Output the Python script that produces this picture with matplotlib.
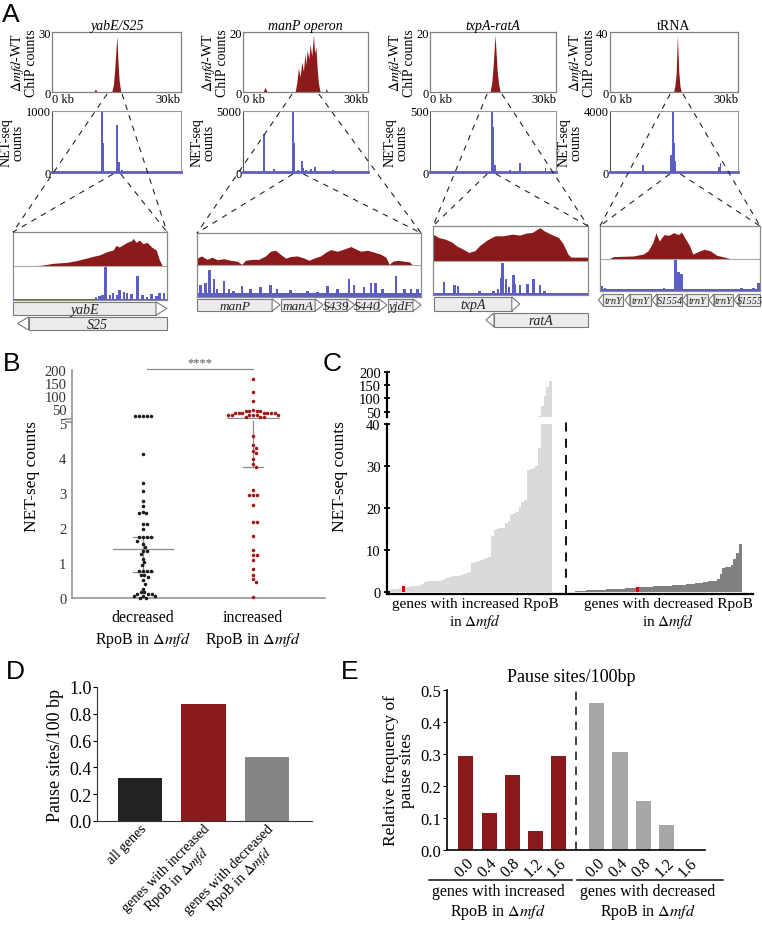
import numpy as np
import matplotlib.pyplot as plt
from matplotlib.patches import Polygon

plt.rcParams['font.family'] = ['Liberation Serif', 'DejaVu Serif']
plt.rcParams['mathtext.fontset'] = 'stix'

W, H = 762, 929
RED = '#8b1a1a'
BLUE = '#5d5dc6'
EDGE = '#808080'
MFD = r'$\Delta\mathit{mfd}$'

# ---------------- panel A data ----------------
chip_titles = ['yabE/S25', 'manP operon', 'txpA-ratA', 'tRNA']
chip_italic = [True, True, True, False]
chip_max = [30, 20, 20, 40]
net_max = [1000, 5000, 500, 4000]

chip1_kb = [0, 9.7, 10.1, 10.5, 13.9, 14.3, 14.6, 14.9, 15.1, 15.3, 15.6, 16.0, 19.0, 19.1, 19.2, 30]
chip1_val = [0, 0, 1.5, 0, 0, 4, 12, 22, 28, 17, 6, 0, 0, 0.6, 0, 0]
chip2_kb = [0, 4.8, 5.3, 5.8, 12.5, 12.9, 13.3, 13.7, 14.1, 14.5, 14.9, 15.1, 15.4, 15.8, 16.1,
            16.5, 16.9, 17.2, 17.5, 17.8, 18.1, 18.5, 19.7, 20.0, 20.3, 30]
chip2_val = [0, 0, 1.5, 0, 0, 3, 8, 5, 10, 7, 13, 9, 14, 11, 16, 12, 19, 13, 15, 8, 3, 0, 0, 1.2, 0, 0]
chip3_kb = [0, 14.3, 14.7, 15.0, 15.3, 15.5, 15.7, 16.0, 16.3, 16.7, 30]
chip3_val = [0, 0, 3, 8, 15, 19, 14, 7, 3, 0, 0]
chip4_kb = [0, 14.9, 15.2, 15.5, 15.8, 16.1, 16.4, 16.7, 29.6, 30]
chip4_val = [0, 0, 4, 12, 38, 14, 4, 0, 0, 1]
chip_kb = [chip1_kb, chip2_kb, chip3_kb, chip4_kb]
chip_val = [chip1_val, chip2_val, chip3_val, chip4_val]

net1_kb = [11.6, 11.9, 14.9, 15.2, 15.6, 16.2]
net1_cnt = [1000, 480, 20, 770, 170, 30]
net2_kb = [5.1, 7.4, 12.0, 12.2, 13.2, 14.1, 14.4, 15.2, 16.3, 17.3, 21.6]
net2_cnt = [3100, 250, 4900, 2400, 150, 900, 350, 200, 250, 450, 200]
net3_kb = [14.7, 15.1, 15.5, 19.0, 21.4, 27.5]
net3_cnt = [500, 370, 60, 20, 70, 30]
net4_kb = [7.8, 14.4, 14.8, 15.1, 15.3, 25.6, 25.9]
net4_cnt = [450, 1100, 4000, 1900, 700, 300, 600]
net_kb = [net1_kb, net2_kb, net3_kb, net4_kb]
net_cnt = [net1_cnt, net2_cnt, net3_cnt, net4_cnt]

# zoom windows (kb) on the ChIP and NET-seq tracks
zoom_chip = [(12.8, 16.3), (11.8, 18.2), (13.6, 17.1), (14.1, 17.1)]
zoom_net = [(14.2, 16.0), (12.0, 14.5), (13.6, 15.7), (14.0, 16.5)]

# zoomed-in tracks (fraction of window, relative signal)
t1_chip_x = [0, .18, .26, .35, .41, .48, .52, .56, .61, .65, .67, .69, .74, .77, .78, .80, .82,
             .845, .87, .90, .93, .95, .97, 1]
t1_chip_y = [0, .02, .08, .11, .16, .24, .29, .33, .43, .48, .62, .57, .71, .76, .83, .71, .78,
             .67, .71, .57, .48, .19, 0, 0]
t1_net_x = [.54, .56, .58, .60, .63, .65, .68, .69, .72, .74, .77, .81, .84, .87, .90, .93, .95, .98]
t1_net_y = [.08, .12, .15, 1.0, .15, .2, .15, .3, .25, .2, .18, .72, .15, .1, .18, .12, .2, .2]

t2_chip_x = [0, .02, .045, .067, .09, .12, .15, .18, .2, .216, .246, .276, .306, .328, .35, .373,
             .396, .418, .448, .478, .5, .522, .552, .575, .597, .627, .657, .687, .709, .731,
             .761, .791, .821, .843, .858, .873, .896, .925, .948, .963, 1]
t2_chip_y = [.22, .29, .18, .25, .17, .2, .15, .12, .02, .15, .18, .18, .29, .44, .47, .34, .22,
             .27, .29, .22, .15, .22, .29, .41, .49, .44, .51, .59, .51, .44, .47, .41, .34,
             .25, .02, .12, .15, .12, .1, 0, 0]
t2_net_x = [.015, .037, .057, .075, .09, .12, .142, .164, .2, .239, .284, .328, .358, .418,
            .493, .537, .582, .627, .679, .701, .746, .776, .798, .828, .888, .925, .955, .985]
t2_net_y = [.38, .43, .85, .55, .26, .5, .26, .2, .33, .26, .31, .38, .26, .23, .2, .15, .33,
            .26, .57, .38, .31, .45, .43, .26, .66, .26, .26, .26]

t3_chip_x = [0, .036, .08, .12, .15, .2, .23, .27, .3, .35, .4, .45, .51, .56, .6, .64, .67,
             .69, .72, .76, .81, .84, .87, .89, 1]
t3_chip_y = [.78, .68, .63, .55, .44, .32, .24, .29, .44, .61, .73, .73, .78, .75, .81, .83,
             .92, .97, .87, .78, .68, .49, .19, .1, .1]
t3_net_x = [.07, .14, .16, .3, .39, .42, .44, .45, .47, .49, .52, .53, .56, .61, .65, .69, .72]
t3_net_y = [.37, .29, .27, .13, .13, .17, .49, .93, .47, .22, .58, .32, .29, .32, .47, .29, .13]

t4_chip_x = [0, .06, .083, .21, .27, .3, .33, .35, .37, .4, .43, .46, .49, .51, .53, .56, .58,
             .61, .65, .69, .73, .79, .81, 1]
t4_chip_y = [0, 0, .06, .08, .14, .24, .5, .81, .55, .75, .73, .81, .75, .83, .65, .4, .14,
             .21, .29, .24, .1, .03, 0, 0]
t4_net_x = [.01, .03, .17, .4, .47, .49, .51, .885, .96, .99]
t4_net_y = [.15, .1, .07, .08, 1.0, .57, .52, .1, .1, .25]

trk_chip_x = [t1_chip_x, t2_chip_x, t3_chip_x, t4_chip_x]
trk_chip_y = [t1_chip_y, t2_chip_y, t3_chip_y, t4_chip_y]
trk_net_x = [t1_net_x, t2_net_x, t3_net_x, t4_net_x]
trk_net_y = [t1_net_y, t2_net_y, t3_net_y, t4_net_y]
trk_floor = [0.04, 0.14, 0.06, 0.05]

# genes: name, start, end, strand, row
genes1 = [('yabE', 0.0, 1.0, 1, 0), ('S25', 0.03, 1.0, -1, 1)]
genes2 = [('manP', 0.0, 0.371, 1, 0), ('manA', 0.375, 0.563, 1, 0), ('S439', 0.571, 0.705, 1, 0),
          ('S440', 0.71, 0.848, 1, 0), ('yjdF', 0.853, 1.0, 1, 0)]
genes3 = [('txpA', 0.006, 0.56, 1, 0), ('ratA', 0.342, 1.0, -1, 1)]
genes4 = [('trnY', -0.01, 0.144, -1, 0), ('trnY', 0.156, 0.319, -1, 0), ('S1554', 0.325, 0.513, -1, 0),
          ('trnY', 0.513, 0.675, -1, 0), ('trnY', 0.681, 0.831, -1, 0), ('S1555', 0.838, 1.0, -1, 0)]
genes = [genes1, genes2, genes3, genes4]

# ---------------- panel B data ----------------
b_dec_low = [4.1, 3.28, 3.04, 2.77, 2.63, 2.46, 2.42, 2.42, 2.11, 2.11, 1.97, 1.73, 1.73, 1.73,
             1.73, 1.64, 1.54, 1.45, 1.35, 1.35, 1.26, 1.12, 1.02, 0.93, 0.76, 0.76, 0.76, 0.76,
             0.66, 0.66, 0.6, 0.5, 0.41, 0.27, 0.17, 0.17, 0.12, 0.12, 0.12, 0.06, 0.06, 0.06, 0.0, 0.0]
b_dec_high = [20, 20, 20, 20, 20]
b_inc_low = [4.62, 4.36, 4.29, 4.2, 4.15, 3.98, 3.82, 3.75, 3.09, 2.94, 2.94, 2.94, 2.65, 2.18,
             2.18, 1.78, 1.38, 1.23, 1.23, 1.09, 0.83, 0.66, 0.55, 0.47, 0.02]
b_inc_high = [165, 114, 80, 46, 41, 41, 41, 41, 33, 33, 33, 33, 33, 33, 33,
              24, 24, 24, 24, 24, 24, 17, 17, 17]
b_dec_median, b_dec_q = 1.4, (0.75, 1.75)
b_inc_median, b_inc_q1 = 15, 3.75

# ---------------- panel C data ----------------
c_inc = [0.5, 0.6, 0.7, 0.8, 1.0, 1.3, 1.1, 1.2, 1.4, 1.4, 1.5, 1.7, 1.9, 2.3, 2.5, 2.6, 2.6,
         2.7, 2.7, 2.8, 3.1, 3.4, 3.6, 3.7, 3.7, 3.8, 4.0, 4.2, 4.5, 4.8, 7.0, 7.2, 7.4, 7.6,
         7.8, 8.0, 8.4, 13.2, 14.8, 15.1, 15.2, 15.3, 16.5, 16.8, 18.3, 18.7, 19.0, 20.2, 21.5,
         22.0, 29.0, 29.3, 29.5, 30.0, 34.4, 73, 109, 143, 167]
c_dec = [0.15, 0.2, 0.25, 0.3, 0.35, 0.4, 0.4, 0.45, 0.5, 0.5, 0.55, 0.6, 0.6, 0.65, 0.7, 0.7,
         0.75, 0.8, 0.85, 0.9, 0.95, 1.0, 1.2, 1.1, 1.15, 1.2, 1.2, 1.25, 1.3, 1.3, 1.35, 1.4,
         1.45, 1.5, 1.5, 1.55, 1.6, 1.65, 1.7, 1.75, 1.8, 1.9, 2.0, 2.1, 2.1, 2.2, 2.3, 2.4, 2.5,
         2.6, 2.7, 3.0, 4.3, 5.8, 5.9, 6.0, 6.5, 7.8, 9.2, 11.3]
c_inc_mark, c_dec_mark = 5, 22

# ---------------- panel D / E data ----------------
d_labels = ['all genes', 'genes with increased\nRpoB in ' + MFD, 'genes with decreased\nRpoB in ' + MFD]
d_vals = [0.32, 0.87, 0.475]
e_bins = ['0.0', '0.4', '0.8', '1.2', '1.6']
e_inc = [0.293, 0.117, 0.235, 0.059, 0.293]
e_dec = [0.46, 0.307, 0.154, 0.077, 0.0]

# ---------------- figure ----------------
fig = plt.figure(figsize=(W / 100, H / 100), dpi=100)


def px_axes(x0, y0, x1, y1):
    return fig.add_axes([x0 / W, 1 - y1 / H, (x1 - x0) / W, (y1 - y0) / H])


def frame(ax, color=EDGE, lw=0.9):
    for s in ax.spines.values():
        s.set_color(color)
        s.set_linewidth(lw)


# ---- panel A: 30 kb windows ----
cols = [(52, 181), (243, 368), (430, 556), (610, 738)]
chip_y, net_y = (33, 93), (112, 173)
for i, (x0, x1) in enumerate(cols):
    ax = px_axes(x0, chip_y[0], x1, chip_y[1])
    ax.fill_between(chip_kb[i], chip_val[i], color=RED, lw=0)
    ax.set_xlim(0, 30)
    ax.set_ylim(0, chip_max[i])
    ax.set_yticks([0, chip_max[i]])
    ax.set_xticks([0, 30], ['0 kb', '30kb'])
    lab = ax.get_xticklabels()
    lab[0].set_ha('left')
    lab[1].set_ha('right')
    ax.tick_params(length=0, labelsize=9, pad=1)
    frame(ax)
    ax.set_ylabel(MFD + '-WT\nChIP counts', fontsize=10, labelpad=0, linespacing=0.9)
    ax.set_title(chip_titles[i], fontsize=10, pad=2,
                 style='italic' if chip_italic[i] else 'normal')

    axn = px_axes(x0, net_y[0], x1, net_y[1])
    axn.bar(net_kb[i], net_cnt[i], width=0.45, color=BLUE, lw=0)
    axn.set_xlim(0, 30)
    axn.set_ylim(0, net_max[i])
    axn.set_yticks([0, net_max[i]])
    axn.set_xticks([])
    axn.tick_params(length=0, labelsize=9, pad=1)
    frame(axn, '#9a9a9a', 0.8)
    axn.spines['left'].set_color('#555')
    axn.spines['bottom'].set_color(BLUE)
    axn.spines['bottom'].set_linewidth(2)
    axn.set_ylabel('NET-seq\ncounts', fontsize=10, labelpad=1, linespacing=0.9)

# ---- panel A: zoomed tracks ----
trk_box = [(13, 233, 167, 301), (197, 234, 421, 298), (433, 227, 588, 296), (600, 227, 760, 292)]
gene_box = [(302, 332, 2), (299, 313, 1), (297, 329, 2), (294, 308, 1)]
gene_fs = [10, 9.5, 10, 7.5]
head_px = [11, 8, 8, 5]
for i, (x0, y0, x1, y1) in enumerate(trk_box):
    ax = px_axes(x0, y0, x1, y1)
    ax.fill_between(trk_chip_x[i], 1, 1 + 0.98 * np.array(trk_chip_y[i]), color=RED, lw=0)
    ax.axhline(1, color='#aaaaaa', lw=0.8)
    ax.fill_between([0, 1], 0, trk_floor[i], color=BLUE, lw=0)
    ax.bar(trk_net_x[i], trk_net_y[i], width=2.6 / (x1 - x0), color=BLUE, lw=0)
    ax.set_xlim(0, 1)
    ax.set_ylim(0, 2)
    ax.set_xticks([])
    ax.set_yticks([])
    frame(ax, '#8a8a8a', 0.9)

    gy0, gy1, nrow = gene_box[i]
    ga = px_axes(x0, gy0, x1, gy1)
    ga.set_xlim(0, 1)
    ga.set_ylim(nrow, 0)
    ga.axis('off')
    hd = head_px[i] / (x1 - x0)
    for name, s, e, strand, row in genes[i]:
        yb, yt, ym = row + 0.06, row + 0.94, row + 0.5
        if strand > 0:
            body = [(s, yb), (e - hd, yb), (e - hd, yt), (s, yt)]
            tip = [(e - hd, yb), (e, ym), (e - hd, yt)]
            cx = (s + e - hd) / 2
        else:
            body = [(s + hd, yb), (e, yb), (e, yt), (s + hd, yt)]
            tip = [(s + hd, yb), (s, ym), (s + hd, yt)]
            cx = (s + hd + e) / 2
        ga.add_patch(Polygon(body, closed=True, fc='#ececec', ec='#7a7a7a', lw=0.8, clip_on=False))
        ga.add_patch(Polygon(tip, closed=True, fc='white', ec='#7a7a7a', lw=0.8, clip_on=False))
        ga.text(cx, ym + 0.04, name, ha='center', va='center', style='italic',
                fontsize=gene_fs[i], color='#222')

# ---- panel B ----
bx0, bx1 = 72, 325
bl_y, bu_y = (422, 599), (371, 420)
bl_lim, bu_lim = (0, 5.05), (10, 200)
bxlim = (-0.645, 1.655)
bl = px_axes(bx0, bl_y[0], bx1, bl_y[1])
bu = px_axes(bx0, bu_y[0], bx1, bu_y[1])
for a in (bl, bu):
    a.set_xlim(*bxlim)
    for s in ('top', 'right'):
        a.spines[s].set_visible(False)
    a.spines['left'].set_color('#8c8c8c')
    a.spines['bottom'].set_color('#8c8c8c')
    a.spines['left'].set_linewidth(1.1)
    a.spines['bottom'].set_linewidth(1.1)
    a.tick_params(axis='y', length=0, labelsize=10.5, pad=4, labelcolor='#333')
bu.spines['bottom'].set_visible(False)
bu.set_xticks([])
bl.set_ylim(*bl_lim)
bu.set_ylim(*bu_lim)
bl.set_yticks(range(6))
bu.set_yticks([50, 100, 150, 200])
bl.set_xticks([0, 1], ['decreased\nRpoB in ' + MFD, 'increased\nRpoB in ' + MFD])
bl.tick_params(axis='x', length=0, labelsize=11.5, pad=8)
for t in bl.get_xticklabels():
    t.set_linespacing(1.3)

px_per_x = (bx1 - bx0) / (bxlim[1] - bxlim[0])


def low_px(v):
    return bl_y[1] - (v - bl_lim[0]) * (bl_y[1] - bl_y[0]) / (bl_lim[1] - bl_lim[0])


def up_px(v):
    return bu_y[1] - (v - bu_lim[0]) * (bu_y[1] - bu_y[0]) / (bu_lim[1] - bu_lim[0])


def swarm(ypx, d=3.8):
    xs = np.zeros(len(ypx))
    placed = []
    for i in np.argsort(ypx):
        y = ypx[i]
        cands = [0.0]
        for (px, py) in placed:
            dy = y - py
            if abs(dy) < d:
                dx = np.sqrt(d * d - dy * dy)
                cands += [px + dx, px - dx]
        cands.sort(key=abs)
        for c in cands:
            if all((c - px) ** 2 + (y - py) ** 2 >= d * d - 1e-6 for px, py in placed):
                xs[i] = c
                break
        placed.append((xs[i], y))
    return xs


for pos, low, high, col in [(0, b_dec_low, b_dec_high, '#1a1a1a'), (1, b_inc_low, b_inc_high, '#a31616')]:
    ypx = [low_px(v) for v in low] + [up_px(v) for v in high]
    off = swarm(ypx) / px_per_x
    n = len(low)
    bl.scatter(pos + off[:n], low, s=6.5, color=col, lw=0, clip_on=False, zorder=3)
    bu.scatter(pos + off[n:], high, s=6.5, color=col, lw=0, clip_on=False, zorder=3)

lc = '#8c8c8c'
bl.plot([-0.27, 0.27], [b_dec_median] * 2, color=lc, lw=0.9)
bl.plot([0, 0], b_dec_q, color=lc, lw=0.9)
for q in b_dec_q:
    bl.plot([-0.09, 0.09], [q, q], color=lc, lw=0.9)
bu.plot([0.76, 1.24], [b_inc_median] * 2, color=lc, lw=0.9)
bu.plot([1, 1], [bu_lim[0], b_inc_median], color=lc, lw=0.9)
bl.plot([1, 1], [b_inc_q1, bl_lim[1]], color=lc, lw=0.9, clip_on=False)
bl.plot([0.91, 1.09], [b_inc_q1] * 2, color=lc, lw=0.9)
bu.plot([0.04, 1.0], [204, 204], color=lc, lw=0.9, clip_on=False)
bu.text(0.52, 205, '****', ha='center', va='bottom', fontsize=9, color='#555')

# ---- panel C ----
cx0, cx1 = 387, 753
cl_y, cu_y = (425, 595), (373, 418)
bw = 2.78
cl = px_axes(cx0, cl_y[0], cx1, cl_y[1])
cu = px_axes(cx0, cu_y[0], cx1, cu_y[1])
x_inc = np.arange(len(c_inc))
x_dec = np.arange(len(c_dec)) + (575 - 388) / bw
col_inc = ['#e00000' if k == c_inc_mark else '#dadada' for k in range(len(c_inc))]
col_dec = ['#e00000' if k == c_dec_mark else '#808080' for k in range(len(c_dec))]
for a in (cl, cu):
    a.bar(x_inc, c_inc, width=1.0, color=col_inc, lw=0)
    a.bar(x_dec, c_dec, width=1.0, color=col_dec, lw=0)
    a.set_xlim(-0.5 - (388 - cx0) / bw, (cx1 - 388) / bw - 0.5)
    for s in ('top', 'right'):
        a.spines[s].set_visible(False)
    a.spines['left'].set_linewidth(1.6)
    a.spines['bottom'].set_linewidth(1.6)
    a.tick_params(axis='y', direction='inout', length=5, width=1.3, labelsize=10.5, pad=2)
    a.set_xticks([])
cu.spines['bottom'].set_visible(False)
cl.set_ylim(-0.5, 40)
cu.set_ylim(30, 200)
cl.set_yticks([0, 10, 20, 30, 40])
cu.set_yticks([50, 100, 150, 200])
xd = (566 - 388) / bw - 0.5
cl.plot([xd, xd], [-0.5, 50.2], color='black', lw=1.3, ls=(0, (5, 4)), clip_on=False)

# ---- panel D ----
d = px_axes(97, 688, 312, 822)
d.bar([0, 1, 2], d_vals, width=0.7, color=['#222222', '#8b1a1a', '#858585'])
d.set_xlim(-0.677, 2.71)
d.set_ylim(0, 1.0)
d.set_yticks(np.arange(0, 1.01, 0.2), [f'{v:.1f}' for v in np.arange(0, 1.01, 0.2)])
d.set_xticks([0, 1, 2], d_labels)
for t in d.get_xticklabels():
    t.set_rotation(45)
    t.set_ha('right')
    t.set_rotation_mode('anchor')
    t.set_multialignment('center')
    t.set_linespacing(1.0)
d.tick_params(axis='x', length=0, labelsize=10.2, pad=0.5)
d.tick_params(axis='y', length=3, labelsize=13, pad=1)
for s in ('top', 'right'):
    d.spines[s].set_visible(False)
d.spines['left'].set_color('#333')
d.spines['bottom'].set_color('#333')
d.set_ylabel('Pause sites/100 bp', fontsize=13, labelpad=4)

# ---- panel E ----
e = px_axes(447, 691, 705, 851)
e_pos_inc = np.arange(5)
e_pos_dec = np.arange(5) + 5.67
e.bar(e_pos_inc, e_inc, width=0.65, color='#8b1a1a')
e.bar(e_pos_dec, e_dec, width=0.65, color='#a7a7a9')
e.axvline(4.76, color='#222', lw=1.2, ls=(0, (5, 4)))
e.set_xlim(-0.82, 10.35)
e.set_ylim(0, 0.5)
e.set_yticks(np.arange(0, 0.51, 0.1), [f'{v:.1f}' for v in np.arange(0, 0.51, 0.1)])
e.set_xticks(list(e_pos_inc) + list(e_pos_dec), e_bins + e_bins)
for t in e.get_xticklabels():
    t.set_rotation(45)
    t.set_ha('right')
    t.set_rotation_mode('anchor')
e.tick_params(axis='x', length=0, labelsize=11.5, pad=3)
e.tick_params(axis='y', length=3, labelsize=12, pad=1)
for s in ('top', 'right'):
    e.spines[s].set_visible(False)
e.spines['left'].set_linewidth(1.2)
e.spines['bottom'].set_linewidth(1.2)
e.set_ylabel('Relative frequency of\npause sites', fontsize=12.5, labelpad=4, linespacing=1.0)
e.text(0.48, 1.03, 'Pause sites/100bp', transform=e.transAxes, ha='center', va='bottom', fontsize=13)

# ---- overlay: letters, connectors, shared labels ----
ov = fig.add_axes([0, 0, 1, 1])
ov.set_xlim(0, W)
ov.set_ylim(H, 0)
ov.axis('off')
ov.patch.set_alpha(0)

for i, (x0, x1) in enumerate(cols):
    tx0, ty0, tx1, _ = trk_box[i]
    sc = (x1 - x0) / 30
    a, b = zoom_chip[i]
    c, dd = zoom_net[i]
    kw = dict(color='#222', lw=0.8, ls=(0, (5, 5)))
    ov.plot([x0 + a * sc, tx0], [chip_y[1] + 2, ty0], **kw)
    ov.plot([x0 + b * sc, tx1], [chip_y[1] + 2, ty0], **kw)
    ov.plot([x0 + c * sc, tx0], [net_y[1] + 2, ty0], **kw)
    ov.plot([x0 + dd * sc, tx1], [net_y[1] + 2, ty0], **kw)

for txt, x, y in [('A', 2, 3), ('B', 3, 352), ('C', 323, 352), ('D', 6, 660), ('E', 341, 660)]:
    ov.text(x, y, txt, fontsize=19, family='Liberation Sans', va='top', ha='left')

ov.text(32, 477, 'NET-seq counts', rotation=90, ha='center', va='center', fontsize=12.5)
ov.text(340, 477, 'NET-seq counts', rotation=90, ha='center', va='center', fontsize=12.5)
ov.text(475, 598, 'genes with increased RpoB\nin ' + MFD, ha='center', va='top', fontsize=11, linespacing=1.05)
ov.text(668, 598, 'genes with decreased RpoB\nin ' + MFD, ha='center', va='top', fontsize=11, linespacing=1.05)

ov.plot([429, 572], [881, 881], color='#111', lw=1.1)
ov.plot([577, 723], [881, 881], color='#111', lw=1.1)
ov.text(498, 884, 'genes with increased\nRpoB in ' + MFD, ha='center', va='top', fontsize=11.5, linespacing=1.15)
ov.text(648, 884, 'genes with decreased\nRpoB in ' + MFD, ha='center', va='top', fontsize=11.5, linespacing=1.15)

# break marks on B
for yy in (bu_y[1], bl_y[0] + 1):
    ov.plot([bx0 - 6, bx0], [yy, yy], color='#8c8c8c', lw=1.1)

fig.savefig('out.png', dpi=100)
